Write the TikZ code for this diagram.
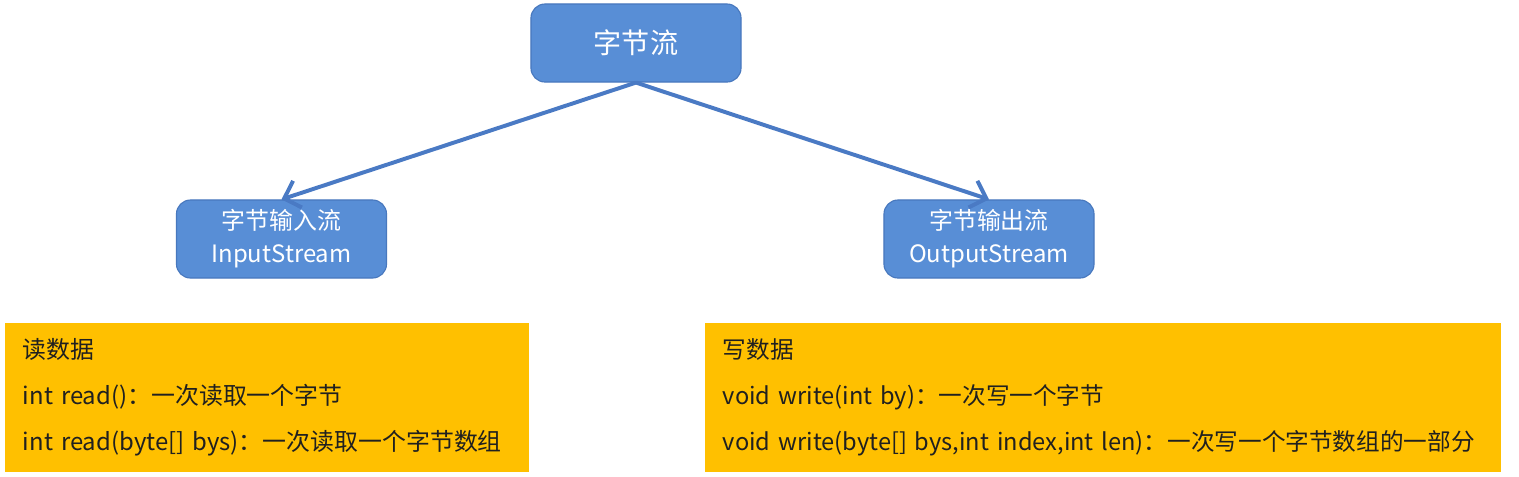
\documentclass[tikz,border=0pt]{standalone}
\usepackage{fontspec}
\setmainfont{Noto Sans CJK SC}
\usepackage{tikz}
\usetikzlibrary{arrows.meta, positioning}
\definecolor{streamBlue}{RGB}{88,142,214}
\definecolor{streamEdge}{RGB}{72,120,190}
\definecolor{arrowBlue}{RGB}{74,122,196}
\definecolor{noteYellow}{RGB}{255,192,0}
\definecolor{noteText}{RGB}{32,32,32}
\tikzstyle{stream} = [rounded corners=10pt, draw=streamEdge, line width=0.8pt, fill=streamBlue, text=white, align=center, minimum width=5.25cm, minimum height=1.95cm]
\tikzstyle{flow} = [-{Straight Barb[length=10pt, width=20pt]}, arrowBlue, line width=2.8pt]
\tikzstyle{note} = [fill=noteYellow, text=noteText, align=left, minimum height=3.725cm, inner xsep=0.45cm]

\begin{document}
\begin{tikzpicture}[x=0.025cm, y=-0.025cm]
    \useasboundingbox[fill=white] (0,0) rectangle (1519,476);

    % Root
    \node[stream, font=\fontsize{20}{24}\selectfont] (bytes) at (636,43) {字节流};

    % Input and output streams
    \node[stream, font=\fontsize{17}{23.5}\selectfont] (input) at (281.5,239) {字节输入流\\InputStream};
    \node[stream, font=\fontsize{17}{23.5}\selectfont] (output) at (989,239) {字节输出流\\OutputStream};

    \draw[flow] (bytes.south) -- (input.north);
    \draw[flow] (bytes.south) -- (output.north);

    % Methods
    \node[note, minimum width=13.1cm, text width=12.2cm, font=\fontsize{17}{32.7}\selectfont] (readNote) at (267,397.5) {读数据\\int read()：一次读取一个字节\\int read(byte[] bys)：一次读取一个字节数组};
    \node[note, minimum width=19.9cm, text width=19.0cm, font=\fontsize{16.8}{32.7}\selectfont] (writeNote) at (1103,397.5) {写数据\\void write(int by)：一次写一个字节\\void write(byte[] bys,int index,int len)：一次写一个字节数组的一部分};
\end{tikzpicture}
\end{document}
